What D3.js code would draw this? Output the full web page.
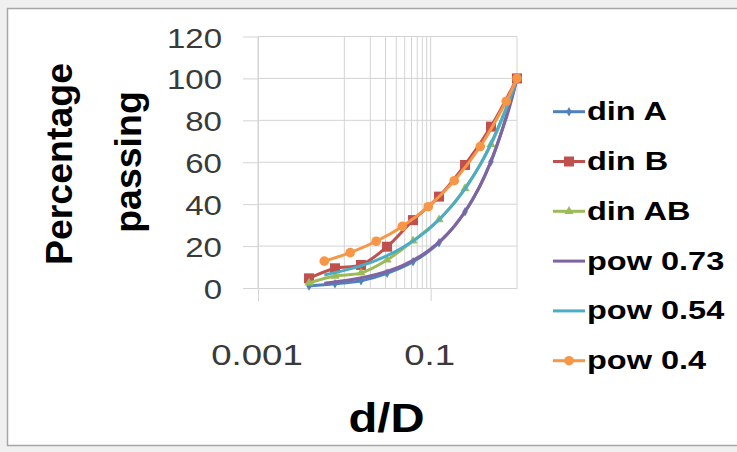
<!DOCTYPE html>
<html>
<head>
<meta charset="utf-8">
<script src="https://cdn.jsdelivr.net/npm/d3@7"></script>
<style>
  body { margin: 0; background: #f0f0f0; }
  svg { display: block; }
  text { font-family: "Liberation Sans", Arial, sans-serif; }
</style>
</head>
<body>
<div id="chart"></div>
<script>
// sieve points d/D for the DIN curves
var sieveX = [0.0039, 0.0078, 0.0156, 0.03125, 0.0625, 0.125, 0.25, 0.5, 1];
var dinA  = [1, 2, 3.5, 7, 12.5, 21.6, 36.4, 60.3, 100];
var dinB  = [4.6, 9.4, 11, 19.7, 32.4, 43.6, 58.7, 77, 100];
var dinAB = [2.4, 5.7, 7.2, 13.4, 22.5, 32.6, 47.5, 68.5, 100];
// points of the power curves
var powX   = [0.00586, 0.0117, 0.0234, 0.0469, 0.0938, 0.1875, 0.375, 0.75, 1];
var pow073 = [2.3, 3.9, 6.5, 10.7, 17.8, 29.5, 48.9, 81.1, 100];
var pow054 = [6.2, 9.1, 13.2, 19.2, 27.9, 40.5, 58.9, 85.6, 100];
var pow04  = [12.8, 16.9, 22.3, 29.4, 38.8, 51.2, 67.5, 89.1, 100];

var seriesNames = ["din A", "din B", "din AB", "pow 0.73", "pow 0.54", "pow 0.4"];
var seriesColors = ["#4F81BD", "#C0504D", "#9BBB59", "#8064A2", "#4BACC6", "#F79646"];
var seriesMarkers = ["diamond", "square", "triangle", "none", "none", "circle"];

var yTicks = [0, 20, 40, 60, 80, 100, 120];
var xTicks = [0.001, 0.1];
var xTickLabels = ["0.001", "0.1"];
var xGrid = [0.001, 0.01, 0.02, 0.03, 0.04, 0.05, 0.06, 0.07, 0.08, 0.09, 0.1, 1];

var series = [
  {x: sieveX, y: dinA}, {x: sieveX, y: dinB}, {x: sieveX, y: dinAB},
  {x: powX, y: pow073}, {x: powX, y: pow054}, {x: powX, y: pow04}
];

var W = 737, H = 452;
var svg = d3.select("#chart").append("svg").attr("width", W).attr("height", H);

svg.append("rect").attr("x", 7.5).attr("y", 8.5).attr("width", 740).attr("height", 437)
  .attr("fill", "#fff").attr("stroke", "#a6a6a6").attr("stroke-width", 1.5);

var x = d3.scaleLog().domain([0.001, 1]).range([258, 517]);
var y = d3.scaleLinear().domain([0, 120]).range([288, 36.5]);
var grid = "#d4d4d4";

// stretched text helper
function label(g, px, py, s, size, sx, anchor, weight, fill) {
  return g.append("text")
    .attr("transform", "translate(" + px + "," + py + ") scale(" + sx + ",1)")
    .attr("text-anchor", anchor).attr("font-size", size)
    .attr("font-weight", weight).attr("fill", fill).text(s);
}

// gridlines
svg.append("g").selectAll("line").data(yTicks.slice(1)).enter().append("line")
  .attr("x1", x(0.001)).attr("x2", x(1)).attr("y1", function(d) { return y(d); }).attr("y2", function(d) { return y(d); })
  .attr("stroke", grid).attr("stroke-width", 1);
svg.append("g").selectAll("line").data(xGrid).enter().append("line")
  .attr("x1", function(d) { return x(d); }).attr("x2", function(d) { return x(d); })
  .attr("y1", y(120)).attr("y2", y(0))
  .attr("stroke", grid).attr("stroke-width", 1);

// axes
var yAxis = svg.append("g").attr("transform", "translate(" + x(0.001) + ",0)")
  .call(d3.axisLeft(y).tickValues(yTicks).tickSize(15).tickSizeOuter(0).tickFormat(d3.format("d")));
var xAxis = svg.append("g").attr("transform", "translate(0," + y(0) + ")")
  .call(d3.axisBottom(x).tickValues(xTicks).tickSize(13).tickSizeOuter(0));
[yAxis, xAxis].forEach(function(a) {
  a.select(".domain").attr("stroke", grid);
  a.selectAll(".tick line").attr("stroke", grid);
  a.selectAll(".tick text").remove();
});
yTicks.forEach(function(t) {
  label(svg, 222, y(t) + 11, String(t), 28, 1.18, "end", "normal", "#3a3a3a");
});
xTicks.forEach(function(t, i) {
  label(svg, x(t) - 1, 365, xTickLabels[i], 30, 1.22, "middle", "normal", "#3a3a3a");
});

// titles
label(svg, 386.5, 432, "d/D", 40, 1.18, "middle", "bold", "#000");
svg.append("text").attr("transform", "translate(72,164) rotate(-90)")
  .attr("text-anchor", "middle").attr("font-size", 37.5).attr("font-weight", "bold").text("Percentage");
svg.append("text").attr("transform", "translate(141,162) rotate(-90)")
  .attr("text-anchor", "middle").attr("font-size", 37.5).attr("font-weight", "bold").text("passing");

// marker drawing
function marker(g, kind, color, px, py) {
  if (kind === "square") {
    g.append("rect").attr("x", px - 5).attr("y", py - 5).attr("width", 10).attr("height", 10).attr("fill", color);
  } else if (kind === "circle") {
    g.append("circle").attr("cx", px).attr("cy", py).attr("r", 4.8).attr("fill", color);
  } else if (kind === "diamond") {
    g.append("path").attr("d", d3.symbol(d3.symbolDiamond, 26)()).attr("transform", "translate(" + px + "," + py + ")").attr("fill", color);
  } else if (kind === "triangle") {
    g.append("path").attr("d", d3.symbol(d3.symbolTriangle, 36)()).attr("transform", "translate(" + px + "," + py + ")").attr("fill", color);
  }
}

var line = d3.line().curve(d3.curveCatmullRom)
  .x(function(d) { return x(d[0]); }).y(function(d) { return y(d[1]); });

series.forEach(function(s, i) {
  var pts = s.x.map(function(v, j) { return [v, s.y[j]]; });
  var g = svg.append("g");
  g.append("path").attr("d", line(pts)).attr("fill", "none")
    .attr("stroke", seriesColors[i]).attr("stroke-width", 3);
  pts.forEach(function(p) { marker(g, seriesMarkers[i], seriesColors[i], x(p[0]), y(p[1])); });
});

// legend
var legendY = d3.scaleLinear().domain([0, 5]).range([111.7, 360.7]);
seriesNames.forEach(function(n, i) {
  var ly = legendY(i);
  var g = svg.append("g");
  g.append("line").attr("x1", 553).attr("x2", 585).attr("y1", ly).attr("y2", ly)
    .attr("stroke", seriesColors[i]).attr("stroke-width", 3);
  marker(g, seriesMarkers[i], seriesColors[i], 569, ly);
  label(g, 587, ly + 8.5, n, 25, 1.3, "start", "bold", "#000");
});
</script>
</body>
</html>
